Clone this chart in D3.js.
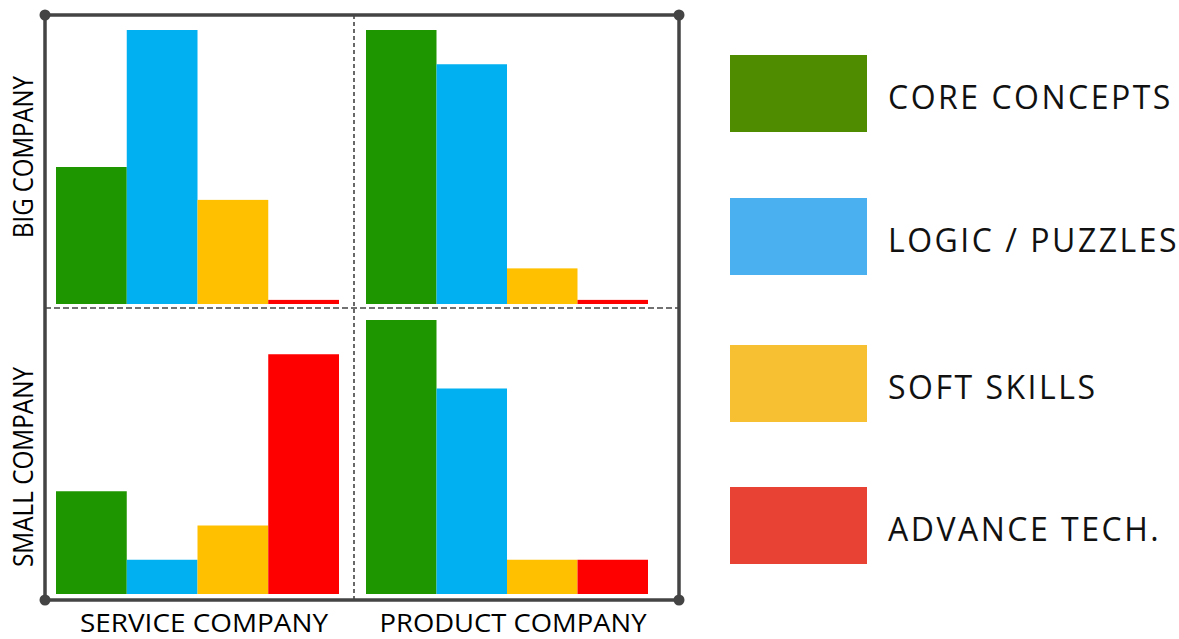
<!DOCTYPE html>
<html lang="en">
<head>
    <meta charset="UTF-8">
    <title>Interview focus by company</title>
    <style>
        body { margin: 0; background: #fff; }
        svg { display: block; }
    </style>
</head>
<body>
    <svg width="1179" height="639"></svg>
    <script src="https://d3js.org/d3.v7.min.js"></script>
    <script>
        // data
        var skills = ['CORE CONCEPTS', 'LOGIC / PUZZLES', 'SOFT SKILLS', 'ADVANCE TECH.']
        var companyTypes = ['SERVICE COMPANY', 'PRODUCT COMPANY']
        var companySizes = ['BIG COMPANY', 'SMALL COMPANY']
        var bigService = [50, 100, 38, 1.5]
        var bigProduct = [100, 87.5, 13, 1.5]
        var smallService = [37.5, 12.5, 25, 87.5]
        var smallProduct = [100, 75, 12.5, 12.5]

        var barCol = ['#1e9600', '#00b0f0', '#ffc000', '#ff0000']
        var legendCol = ['#4f8c00', '#4bb0f0', '#f6c032', '#e84234']

        var svg = d3.select('svg')

        var fLeft = 45, fRight = 679, fTop = 15, fBottom = 600
        var midX = 354, midY = 308

        // quadrant placement
        var xCol = d3.scaleOrdinal().domain(companyTypes).range([[56, 339], [366, 648]])
        var baseRow = d3.scaleOrdinal().domain(companySizes).range([304, 594])
        var h = d3.scaleLinear().domain([0, 100]).range([0, 274])

        var panels = [
            {size: 'BIG COMPANY', type: 'SERVICE COMPANY', vals: bigService},
            {size: 'BIG COMPANY', type: 'PRODUCT COMPANY', vals: bigProduct},
            {size: 'SMALL COMPANY', type: 'SERVICE COMPANY', vals: smallService},
            {size: 'SMALL COMPANY', type: 'PRODUCT COMPANY', vals: smallProduct}
        ]

        // dashed dividers
        svg.append('line')
            .attr('x1', midX).attr('y1', fTop).attr('x2', midX).attr('y2', fBottom)
            .attr('stroke', '#444').attr('stroke-width', 1.6)
            .attr('stroke-dasharray', '4,3')
        svg.append('line')
            .attr('x1', fLeft).attr('y1', midY).attr('x2', fRight).attr('y2', midY)
            .attr('stroke', '#444').attr('stroke-width', 1.6)
            .attr('stroke-dasharray', '6,3')

        panels.forEach(function(p) {
            var x = d3.scaleBand().domain(skills).range(xCol(p.type)).padding(0)
            var base = baseRow(p.size)
            svg.append('g')
                .selectAll('rect')
                .data(p.vals)
                .enter()
                .append('rect')
                .attr('x', function(d, i) { return x(skills[i]) })
                .attr('width', x.bandwidth())
                .attr('y', function(d) { return base - h(d) })
                .attr('height', function(d) { return h(d) })
                .attr('fill', function(d, i) { return barCol[i] })
        })

        // frame
        svg.append('rect')
            .attr('x', fLeft).attr('y', fTop)
            .attr('width', fRight - fLeft).attr('height', fBottom - fTop)
            .attr('fill', 'none').attr('stroke', '#444').attr('stroke-width', 3.5)
        var corners = [[fLeft, fTop], [fRight, fTop], [fLeft, fBottom], [fRight, fBottom]]
        svg.selectAll('circle.corner')
            .data(corners)
            .enter()
            .append('circle')
            .attr('class', 'corner')
            .attr('cx', function(d) { return d[0] })
            .attr('cy', function(d) { return d[1] })
            .attr('r', 5.5)
            .attr('fill', '#444')

        // axis labels
        var labelFont = "'Open Sans', sans-serif"
        var xLen = [248, 267]
        svg.selectAll('text.xlab')
            .data(companyTypes)
            .enter()
            .append('text')
            .attr('class', 'xlab')
            .attr('x', function(d, i) { return [204, 513][i] })
            .attr('y', 632)
            .attr('text-anchor', 'middle')
            .attr('font-family', labelFont)
            .attr('font-size', 26)
            .attr('textLength', function(d, i) { return xLen[i] })
            .attr('lengthAdjust', 'spacingAndGlyphs')
            .attr('fill', '#000')
            .text(function(d) { return d })

        var yLen = [162, 200]
        svg.selectAll('text.ylab')
            .data(companySizes)
            .enter()
            .append('text')
            .attr('class', 'ylab')
            .attr('transform', function(d, i) {
                return 'translate(33,' + [157, 467][i] + ') rotate(-90)'
            })
            .attr('text-anchor', 'middle')
            .attr('font-family', labelFont)
            .attr('font-size', 28)
            .attr('textLength', function(d, i) { return yLen[i] })
            .attr('lengthAdjust', 'spacingAndGlyphs')
            .attr('fill', '#000')
            .text(function(d) { return d })

        // legend
        var lg = svg.append('g')
            .selectAll('g')
            .data(skills)
            .enter()
            .append('g')
            .attr('transform', function(d, i) { return 'translate(730,' + [55, 198, 345, 487][i] + ')' })
        lg.append('rect')
            .attr('width', 137)
            .attr('height', 77)
            .attr('fill', function(d, i) { return legendCol[i] })
        lg.append('text')
            .attr('x', 158)
            .attr('y', 54)
            .attr('font-family', "'Open Sans', sans-serif")
            .attr('font-size', 32)
            .attr('letter-spacing', 2.5)
            .attr('fill', '#111')
            .text(function(d) { return d })
    </script>
</body>
</html>
